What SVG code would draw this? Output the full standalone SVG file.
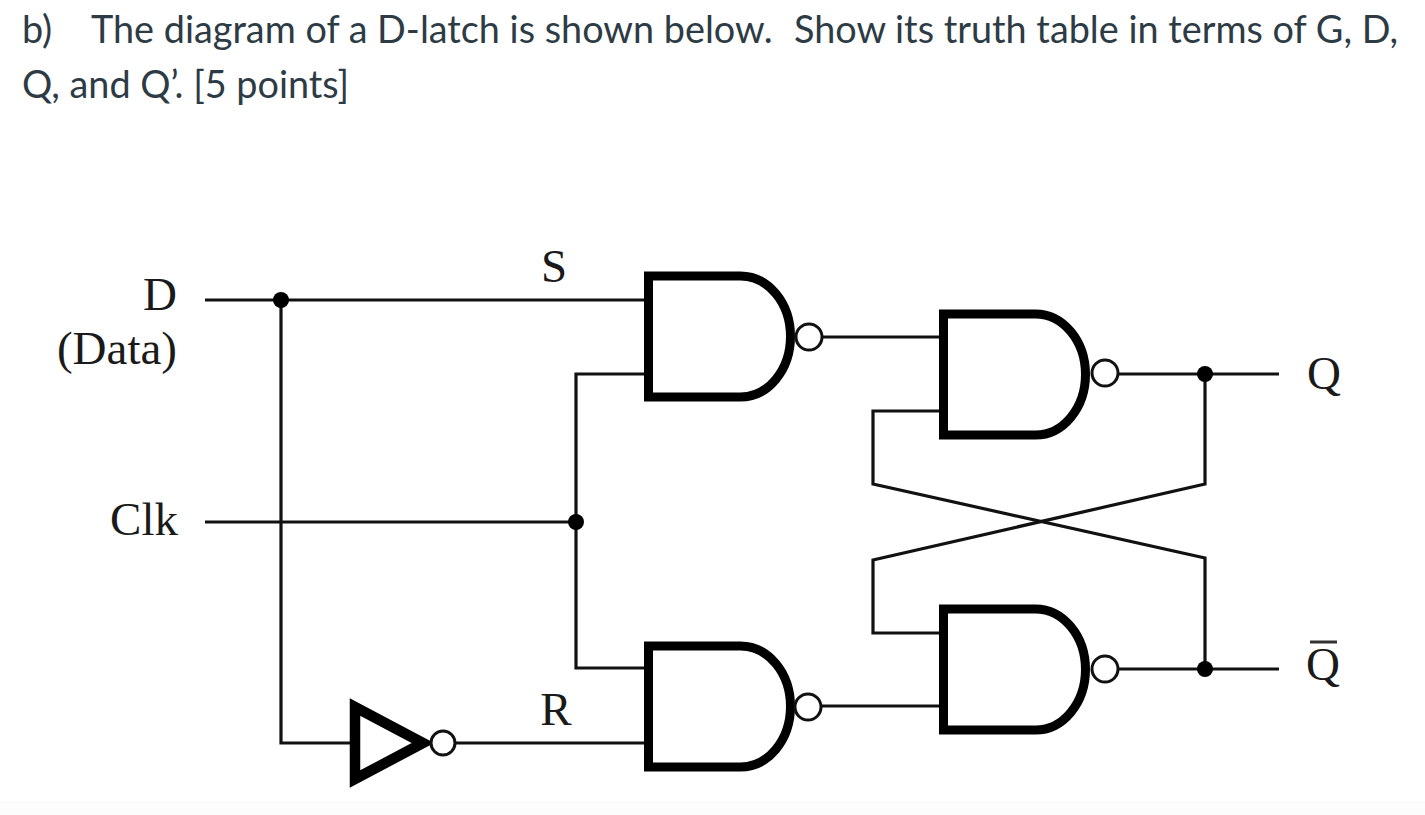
<svg xmlns="http://www.w3.org/2000/svg" width="1425" height="815" viewBox="0 0 1425 815">
<defs>
<style>
.w{fill:none;stroke:#111;stroke-width:3.200}
.g{fill:none;stroke:#000;stroke-width:9;stroke-linejoin:miter}
.i{fill:none;stroke:#000;stroke-width:10.500;stroke-linejoin:miter;stroke-miterlimit:10}
.b{fill:#fff;stroke:#111;stroke-width:3}
.d{fill:#000}
.h{font-family:Lato,"Liberation Sans",sans-serif;font-size:37.800px;fill:#2d3b45}
.l{font-family:"Liberation Serif",serif;font-size:47px;fill:#1a1a1a}
</style>
<path id="nand" d="M92 5H0V126H92A50 60.500 0 0 0 92 5Z"/>
</defs>
<rect width="1425" height="815" fill="#fff"/>
<rect y="801" width="1425" height="14" fill="#fcfcfc"/>
<g id="caption">
<text class="h" x="22" y="43">b)</text>
<text class="h" x="91" y="43">The diagram of a D-latch is shown below.</text>
<text class="h" x="794" y="43">Show its truth table in terms of G, D,</text>
<text class="h" x="22" y="98">Q, and Q’. [5 points]</text>
</g>
<g id="connectors">
<path class="w" d="M205 300H644"/>
<path class="w" d="M281 300V743H350"/>
<path class="w" d="M205 522H576"/>
<path class="w" d="M644 374H576V668H644"/>
<path class="w" d="M455 743H644"/>
<path class="w" d="M822 337H939"/>
<path class="w" d="M822 706H939"/>
<path class="w" d="M1118 374H1279"/>
<path class="w" d="M1118 669H1279"/>
<path class="w" d="M1205 374V484L873 560V633H939"/>
<path class="w" d="M1205 669V558L873 484V411H939"/>
<circle class="d" cx="281" cy="300" r="8"/>
<circle class="d" cx="576" cy="522" r="8"/>
<circle class="d" cx="1205" cy="374" r="8"/>
<circle class="d" cx="1205" cy="669" r="8"/>
</g>
<g id="gate-s"><use href="#nand" class="g" x="648.500" y="271"/><circle class="b" cx="809" cy="337" r="13"/></g>
<g id="gate-q"><use href="#nand" class="g" x="943.500" y="309"/><circle class="b" cx="1105" cy="373" r="13"/></g>
<g id="gate-r"><use href="#nand" class="g" x="648.500" y="641"/><circle class="b" cx="808" cy="707" r="13"/></g>
<g id="gate-qbar"><use href="#nand" class="g" x="943.500" y="604"/><circle class="b" cx="1105" cy="669" r="13"/></g>
<g id="inverter"><path class="i" d="M355 707V779L423 743Z"/><circle class="b" cx="443" cy="743" r="12"/></g>
<g id="labels">
<text class="l" x="177" y="310" text-anchor="end">D</text>
<text class="l" x="177" y="364" text-anchor="end">(Data)</text>
<text class="l" x="178" y="535" text-anchor="end">Clk</text>
<text class="l" x="554" y="282" text-anchor="middle">S</text>
<text class="l" x="556" y="725" text-anchor="middle">R</text>
<text class="l" x="1324" y="389" text-anchor="middle">Q</text>
<text class="l" x="1323" y="680" text-anchor="middle">Q</text>
<path d="M1310 642H1337" stroke="#333" stroke-width="3"/>
</g>
</svg>
